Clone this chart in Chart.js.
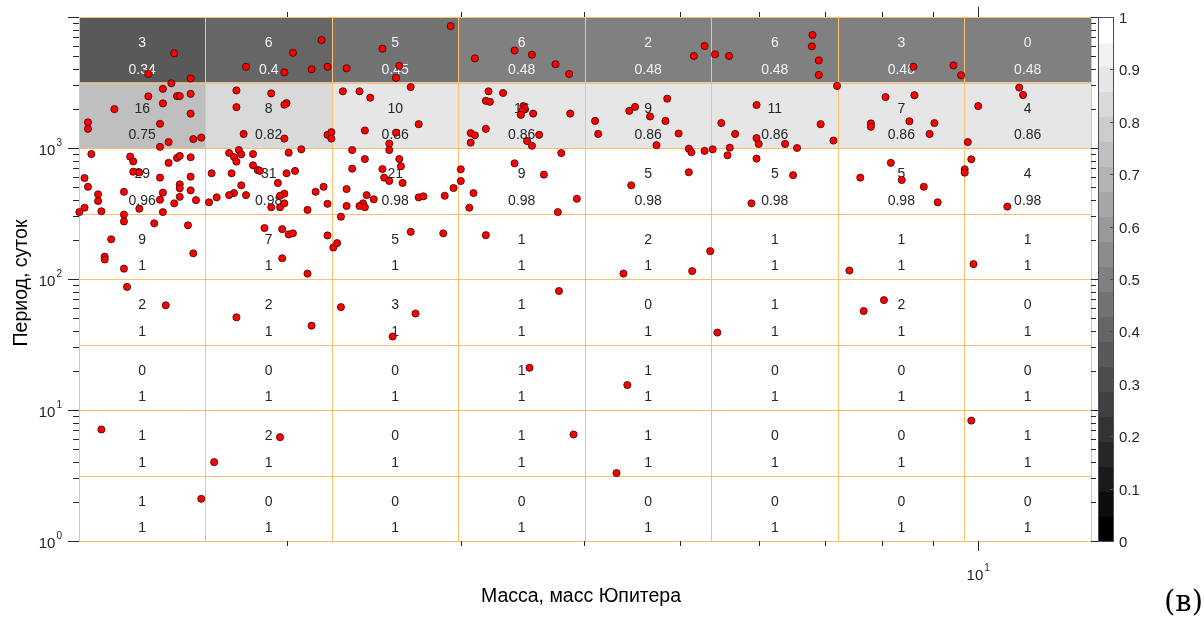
<!DOCTYPE html>
<html>
<head>
<meta charset="utf-8">
<script src="https://cdn.jsdelivr.net/npm/chart.js@4.4.1/dist/chart.umd.min.js"></script>
<style>
	html, body { margin: 0; padding: 0; background: #fff; }
	#wrap { width: 1204px; height: 621px; position: relative; }
</style>
</head>
<body>
<div id="wrap"><canvas id="myChart" width="1204" height="621"></canvas></div>
<script>
// planets: mass (Jupiter masses) and period (days)
const massJup = [
	// column 1
	1.54, 1.45, 1.60, 1.53, 1.50, 1.45, 1.55, 1.56, 1.60, 1.50, 1.34, 1.60, 1.26, 1.26, 1.49, 1.61, 1.64, 1.52, 1.49,
	1.27, 1.39, 1.40, 1.52, 1.55, 1.56, 1.60, 1.40, 1.42, 1.25, 1.26, 1.49, 1.56, 1.56, 1.60, 1.60, 1.50, 1.37, 1.29,
	1.29, 1.49, 1.56, 1.62, 1.54, 1.235, 1.25, 1.30, 1.42, 1.50,
	1.47, 1.59, 1.37, 1.37, 1.33, 1.31, 1.31, 1.61, 1.37, 1.38, 1.51, 1.30, 1.64,
	// column 2
	2.17, 2.03, 1.82, 1.99, 2.12, 2.20, 1.78, 1.78, 1.81, 1.93, 2.00, 1.99, 1.99, 2.20,
	1.75, 1.77, 1.79, 1.80, 1.78, 1.68, 1.76, 1.80, 1.82, 1.77, 1.75, 1.70, 1.67, 1.85, 2.01, 2.07, 1.85, 1.87,
	1.88, 2.00, 2.04, 1.96, 1.99, 1.97, 2.14, 2.18, 1.93, 1.97, 1.99, 2.10, 2.20,
	1.90, 1.98, 2.01, 2.03, 1.98, 2.10, 2.20, 1.78, 2.12, 1.69, 1.97,
	// column 3
	2.30, 2.50, 2.60, 2.58, 2.93, 2.22, 2.22, 2.28, 2.37, 2.43, 2.67, 2.40, 2.58, 2.54, 2.72,
	2.54, 2.33, 2.40, 2.60, 2.33, 2.61, 2.50, 2.51, 2.54, 2.62, 2.30, 2.41, 2.45, 2.39, 2.37, 2.40, 2.30, 2.72,
	2.75, 2.89, 2.95, 2.23, 2.25, 2.27, 2.67, 2.88, 2.27, 2.56, 2.70,
	// column 4
	3.40, 3.54, 3.10, 3.74, 3.86, 3.20, 3.31, 3.18, 3.21, 3.47, 3.48, 3.46, 3.45, 3.55, 3.87, 3.18, 3.07, 3.10,
	3.07, 3.60, 3.50, 3.54, 3.00, 3.00, 3.79, 3.40, 3.64, 3.09, 3.06, 3.76, 3.93, 3.18, 3.77, 3.52, 3.90,
	// column 5
	5.29, 5.16, 4.10, 4.13, 4.44, 4.50, 4.66, 4.85, 4.83, 4.98, 4.73, 5.10, 5.13, 5.29, 5.10, 4.46, 4.38, 5.14,
	4.42, 4.31,
	// column 6
	5.42, 5.60, 6.80, 6.79, 6.90, 6.90, 5.50, 5.68, 5.61, 5.97, 5.97, 6.00, 6.38, 6.56, 6.93, 7.14, 7.20, 5.39,
	5.58, 5.97, 5.90, 6.50, 5.36, 5.45,
	// column 7
	8.60, 9.44, 9.61, 8.06, 8.62, 7.79, 7.79, 8.52, 8.93, 9.03, 8.16, 8.37, 7.60, 8.81, 9.10, 7.41, 7.66, 8.03,
	// column 8
	11.0, 11.1, 10.0, 9.76, 9.84, 9.69, 9.69, 10.7, 9.89, 9.84
];
const periodDays = [
	// column 1
	5280, 3680, 3390, 3120, 2830, 2480, 2490, 2490, 2590, 2190, 1980, 1830, 1570, 1400, 1530, 1170, 1200, 1110, 1020,
	900, 860, 790, 770, 840, 870, 850, 660, 650, 590, 506, 594, 528, 492, 604, 475, 456, 463, 443,
	394, 403, 424, 400, 378, 324, 350, 329, 344, 324,
	266, 257, 310, 275, 201, 148, 141, 157, 120, 87, 63, 7.1, 2.1,
	// column 2
	6670, 5330, 4170, 3780, 3990, 4170, 2750, 2050, 1280, 2610, 2200, 2140, 1180, 1260,
	916, 852, 965, 895, 786, 641, 641, 519, 437, 453, 437, 420, 385, 900, 921, 977, 738, 680,
	668, 641, 668, 541, 448, 432, 463, 506, 353, 353, 378, 337, 375,
	245, 240, 219, 223, 144, 110, 215, 51, 44, 4.0, 6.2,
	// column 3
	4060, 5730, 4240, 3430, 8520, 1320, 1180, 2710, 2710, 2420, 2920, 1360, 1310, 1080, 1520,
	965, 965, 824, 824, 695, 725, 690, 594, 560, 541, 486, 437, 406, 378, 361, 353, 361, 420,
	428, 432, 495, 174, 188, 299, 229, 223, 61, 36.4, 54.5,
	// column 4
	5550, 5150, 4830, 4360, 3670, 2710, 2630, 2290, 2250, 2090, 2010, 1920, 1790, 1830, 1830, 1400, 1300, 1250,
	1100, 1260, 1130, 1040, 688, 560, 916, 764, 626, 453, 350, 324, 410, 216, 81, 21, 6.5,
	// column 5
	6010, 5040, 1610, 1280, 1920, 2060, 1740, 2380, 1610, 1290, 1050, 988, 928, 950, 653, 519, 110, 115,
	15.5, 3.3,
	// column 6
	5190, 5040, 7290, 5970, 4660, 3610, 1550, 1280, 1005, 2130, 1190, 1075, 1075, 1000, 1520, 1140, 2980, 977,
	880, 830, 378, 620, 163, 39,
	// column 7
	4170, 4270, 3590, 2450, 2530, 1540, 1450, 1600, 1280, 1550, 770, 570, 594, 506, 385, 116, 57, 69,
	// column 8
	2890, 2540, 2090, 1110, 820, 688, 648, 357, 130, 8.3
];

// bin edges of the grid
const massEdges = [1.234, 1.656, 2.223, 2.984, 4.005, 5.375, 7.218, 9.685, 13.0];
const periodEdges = [1, 3.162, 10, 31.62, 100, 316.2, 1000, 3162, 10000];

// rows from the top (longest periods) down
const cellCounts = [
	[3, 6, 5, 6, 2, 6, 3, 0],
	[16, 8, 10, 16, 9, 11, 7, 4],
	[29, 31, 21, 9, 5, 5, 5, 4],
	[9, 7, 5, 1, 2, 1, 1, 1],
	[2, 2, 3, 1, 0, 1, 2, 0],
	[0, 0, 0, 1, 1, 0, 0, 0],
	[1, 2, 0, 1, 1, 0, 0, 1],
	[1, 0, 0, 0, 0, 0, 0, 0]
];
const cellProbs = [
	[0.34, 0.4, 0.45, 0.48, 0.48, 0.48, 0.48, 0.48],
	[0.75, 0.82, 0.86, 0.86, 0.86, 0.86, 0.86, 0.86],
	[0.96, 0.98, 0.98, 0.98, 0.98, 0.98, 0.98, 0.98],
	[1, 1, 1, 1, 1, 1, 1, 1],
	[1, 1, 1, 1, 1, 1, 1, 1],
	[1, 1, 1, 1, 1, 1, 1, 1],
	[1, 1, 1, 1, 1, 1, 1, 1],
	[1, 1, 1, 1, 1, 1, 1, 1]
];

const yTickExps = [0, 1, 2, 3];
const xTickExps = [1];
const cbarTicks = [0, 0.1, 0.2, 0.3, 0.4, 0.5, 0.6, 0.7, 0.8, 0.9, 1];

const FONT = "'Liberation Sans', Arial, sans-serif";
const TEXT = '#262626';
const GRID = '#fbbf6e';
const LEVELS = 21;

function grayOf(p) {
	const lv = Math.min(LEVELS - 1, Math.floor(p * LEVELS));
	const g = Math.round(lv / (LEVELS - 1) * 255);
	return 'rgb(' + g + ',' + g + ',' + g + ')';
}

function line(ctx, x0, y0, x1, y1) {
	ctx.beginPath();
	ctx.moveTo(x0, y0);
	ctx.lineTo(x1, y1);
	ctx.stroke();
}

// "10" with a raised exponent, anchored at its right end or its centre
function drawPow(ctx, exp, x, y, align) {
	ctx.font = '15px ' + FONT;
	const wb = ctx.measureText('10').width;
	ctx.font = '10px ' + FONT;
	const we = ctx.measureText(String(exp)).width;
	const x0 = align === 'right' ? x - wb - we - 1 : x - (wb + we + 1) / 2;
	ctx.textAlign = 'left';
	ctx.textBaseline = 'alphabetic';
	ctx.font = '15px ' + FONT;
	ctx.fillText('10', x0, y);
	ctx.font = '10px ' + FONT;
	ctx.fillText(String(exp), x0 + wb + 1, y - 9);
}

const cellPlugin = {
	id: 'cellPlugin',
	beforeDatasetsDraw(chart) {
		const { ctx, chartArea, scales: { x, y } } = chart;
		ctx.save();
		for (let r = 0; r < 8; r++) {
			const yt = y.getPixelForValue(periodEdges[8 - r]);
			const yb = y.getPixelForValue(periodEdges[7 - r]);
			for (let c = 0; c < 8; c++) {
				const xl = x.getPixelForValue(massEdges[c]);
				const xr = x.getPixelForValue(massEdges[c + 1]);
				ctx.fillStyle = grayOf(cellProbs[r][c]);
				ctx.fillRect(xl, yt, xr - xl, yb - yt);
			}
		}

		ctx.strokeStyle = GRID;
		ctx.lineWidth = 1;
		massEdges.forEach(m => {
			const px = Math.round(x.getPixelForValue(m)) + 0.5;
			line(ctx, px, chartArea.top, px, chartArea.bottom);
		});
		periodEdges.forEach(p => {
			const py = Math.round(y.getPixelForValue(p)) + 0.5;
			line(ctx, chartArea.left, py, chartArea.right, py);
		});

		ctx.font = '14px ' + FONT;
		ctx.textAlign = 'center';
		ctx.textBaseline = 'middle';
		for (let r = 0; r < 8; r++) {
			const yt = y.getPixelForValue(periodEdges[8 - r]);
			const h = y.getPixelForValue(periodEdges[7 - r]) - yt;
			for (let c = 0; c < 8; c++) {
				const cx = (x.getPixelForValue(massEdges[c]) + x.getPixelForValue(massEdges[c + 1])) / 2;
				const p = cellProbs[r][c];
				ctx.fillStyle = p < 0.6 ? '#f2f2f2' : TEXT;
				ctx.fillText(String(cellCounts[r][c]), cx, yt + 0.4 * h);
				ctx.fillText(String(p), cx, yt + 0.81 * h);
			}
		}
		ctx.restore();
	},
	afterDraw(chart) {
		const { ctx, chartArea, scales: { x, y } } = chart;
		const { left, right, top, bottom } = chartArea;
		ctx.save();
		ctx.strokeStyle = TEXT;
		ctx.fillStyle = TEXT;
		ctx.lineWidth = 1;

		// y ticks, both sides
		for (let k = 0; k <= 4; k++) {
			for (let m = 1; m <= 9; m++) {
				const v = m * Math.pow(10, k);
				if (v > periodEdges[8]) break;
				const py = Math.round(y.getPixelForValue(v)) + 0.5;
				const major = m === 1;
				line(ctx, left - (major ? 11 : 6), py, left, py);
				line(ctx, right, py, right + (major ? 8 : 5), py);
			}
		}
		// x ticks, top and bottom
		for (let k = 0; k <= 1; k++) {
			for (let m = 1; m <= 9; m++) {
				const v = m * Math.pow(10, k);
				if (v < massEdges[0] || v > massEdges[8]) continue;
				const px = Math.round(x.getPixelForValue(v)) + 0.5;
				const major = m === 1;
				line(ctx, px, top - (major ? 10 : 5), px, top);
				line(ctx, px, bottom, px, bottom + (major ? 10 : 5));
			}
		}

		yTickExps.forEach(e => drawPow(ctx, e, 62, y.getPixelForValue(Math.pow(10, e)) + 7, 'right'));
		xTickExps.forEach(e => drawPow(ctx, e, x.getPixelForValue(Math.pow(10, e)), 580, 'center'));

		// axis titles
		ctx.fillStyle = '#000';
		ctx.font = '19.5px ' + FONT;
		ctx.textAlign = 'center';
		ctx.textBaseline = 'alphabetic';
		ctx.fillText('Масса, масс Юпитера', (left + right) / 2 - 4, 602);
		ctx.save();
		ctx.translate(27, (top + bottom) / 2 + 4);
		ctx.rotate(-Math.PI / 2);
		ctx.fillText('Период, суток', 0, 0);
		ctx.restore();

		// colour bar
		const cbL = 1098, cbW = 15;
		const span = bottom - top;
		for (let i = 0; i < LEVELS; i++) {
			const g = Math.round(i / (LEVELS - 1) * 255);
			ctx.fillStyle = 'rgb(' + g + ',' + g + ',' + g + ')';
			const y0 = bottom - span * (i + 1) / LEVELS;
			ctx.fillRect(cbL, Math.floor(y0), cbW, Math.ceil(span / LEVELS) + 1);
		}
		ctx.strokeStyle = '#4d4d4d';
		ctx.strokeRect(cbL + 0.5, top + 0.5, cbW, span);
		ctx.fillStyle = TEXT;
		ctx.font = '15px ' + FONT;
		ctx.textAlign = 'left';
		ctx.textBaseline = 'middle';
		cbarTicks.forEach(t => {
			const py = Math.round(bottom - t * span) + 0.5;
			line(ctx, cbL + cbW - 3, py, cbL + cbW, py);
			ctx.fillText(String(t), cbL + cbW + 6, py + 1);
		});

		// panel letter
		ctx.fillStyle = '#000';
		ctx.font = '29px "DejaVu Serif", serif';
		ctx.textAlign = 'right';
		ctx.textBaseline = 'alphabetic';
		ctx.fillText('(в)', 1203, 611);
		ctx.restore();
	}
};

const ctx = document.getElementById('myChart').getContext('2d');
new Chart(ctx, {
	type: 'scatter',
	data: {
		datasets: [{
			data: massJup.map((m, i) => ({ x: m, y: periodDays[i] })),
			backgroundColor: '#ff0000',
			borderColor: '#200000',
			borderWidth: 0.7,
			pointRadius: 3.6,
			clip: false
		}]
	},
	options: {
		responsive: false,
		devicePixelRatio: 1,
		animation: false,
		layout: { padding: { left: 0, right: 113, top: 17, bottom: 0 } },
		plugins: { legend: { display: false }, tooltip: { enabled: false } },
		scales: {
			x: {
				type: 'logarithmic',
				min: massEdges[0],
				max: massEdges[8],
				grid: { display: false },
				border: { display: false },
				ticks: { display: false },
				afterFit(s) { s.height = 80; }
			},
			y: {
				type: 'logarithmic',
				min: periodEdges[0],
				max: periodEdges[8],
				grid: { display: false },
				border: { display: false },
				ticks: { display: false },
				afterFit(s) { s.width = 79; }
			}
		}
	},
	plugins: [cellPlugin]
});
</script>
</body>
</html>
